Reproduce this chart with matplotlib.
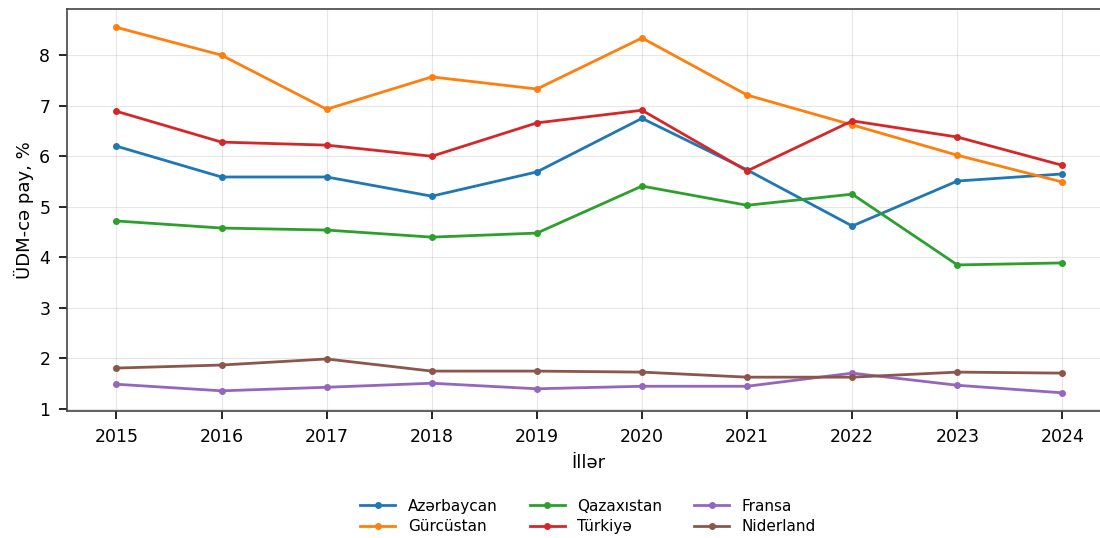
import matplotlib
matplotlib.use("Agg")
import matplotlib.pyplot as plt

years = [2015, 2016, 2017, 2018, 2019, 2020, 2021, 2022, 2023, 2024]
azerbaycan = [6.20, 5.59, 5.59, 5.21, 5.69, 6.75, 5.73, 4.62, 5.51, 5.65]
gurcustan = [8.55, 8.00, 6.93, 7.57, 7.33, 8.34, 7.21, 6.62, 6.02, 5.49]
qazaxistan = [4.72, 4.58, 4.54, 4.40, 4.48, 5.41, 5.03, 5.25, 3.85, 3.89]
turkiye = [6.89, 6.28, 6.22, 6.00, 6.66, 6.91, 5.71, 6.70, 6.38, 5.82]
fransa = [1.49, 1.36, 1.43, 1.51, 1.40, 1.45, 1.45, 1.71, 1.47, 1.32]
niderland = [1.81, 1.87, 1.99, 1.75, 1.75, 1.73, 1.63, 1.63, 1.73, 1.71]

series = [
    ("Azərbaycan", azerbaycan, "#1f77b4"),
    ("Gürcüstan", gurcustan, "#ff7f0e"),
    ("Qazaxıstan", qazaxistan, "#2ca02c"),
    ("Türkiyə", turkiye, "#d62728"),
    ("Fransa", fransa, "#9467bd"),
    ("Niderland", niderland, "#8c564b"),
]

fig = plt.figure(figsize=(11, 5.38), dpi=100)
ax = fig.add_axes([0.0609, 0.236, 0.948, 0.747])
for name, vals, col in series:
    ax.plot(years, vals, marker="o", markersize=4, linewidth=2, color=col, label=name)

ax.set_xlim(2014.53, 2024.45)
ax.set_ylim(0.96, 8.91)
ax.set_xticks(years)
ax.set_yticks([1, 2, 3, 4, 5, 6, 7, 8])
ax.tick_params(labelsize=12.5, length=6, width=1.2, pad=6)
ax.grid(True, alpha=0.3)
for s in ax.spines.values():
    s.set_color("#444444")
    s.set_linewidth(1.2)
ax.set_xlabel("İllər", fontsize=13, labelpad=6)
ax.set_ylabel("ÜDM-cə pay, %", fontsize=13, labelpad=4)
fig.legend(loc="center", bbox_to_anchor=(0.5345, 0.04), ncol=3, frameon=False,
           fontsize=11, columnspacing=2.1, handlelength=2.3, labelspacing=0.35)

fig.savefig("out.png", dpi=100)
